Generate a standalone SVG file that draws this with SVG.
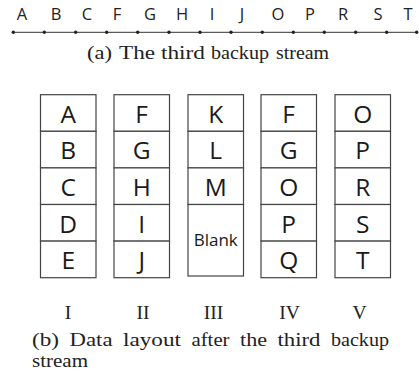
<svg xmlns="http://www.w3.org/2000/svg" width="419" height="374" viewBox="0 0 419 374">
<style>
.top{font-family:"Open Sans","Liberation Sans",sans-serif;font-size:16.5px;fill:#222;text-anchor:middle}
.cell{fill:#fff;stroke:#444;stroke-width:1.2}
.lbl{font-family:"Open Sans","Liberation Sans",sans-serif;font-size:24.5px;fill:#1a1a1a;text-anchor:middle}
.small{font-family:"Open Sans","Liberation Sans",sans-serif;font-size:17px;fill:#1a1a1a;text-anchor:middle}
.cap{font-family:"Liberation Serif","DejaVu Serif",serif;font-size:19.5px;fill:#222}
.num{font-family:"Liberation Serif","DejaVu Serif",serif;font-size:19.5px;fill:#222;text-anchor:middle}
.dot{fill:#222}
</style>
<rect width="419" height="374" fill="#fff"/>
<g id="stream">
<g class="top">
<text x="22" y="20">A</text><text x="56" y="20">B</text><text x="87" y="20">C</text><text x="117" y="20">F</text><text x="150" y="20">G</text><text x="182" y="20">H</text><text x="212" y="20">I</text><text x="242" y="20">J</text><text x="278" y="20">O</text><text x="310" y="20">P</text><text x="343" y="20">R</text><text x="378" y="20">S</text><text x="408" y="20">T</text>
</g>
<line x1="13" y1="32.3" x2="417" y2="32.3" stroke="#333" stroke-width="1"/>
<g class="dot">
<circle cx="13.3" cy="32.3" r="1.7"/><circle cx="44.3" cy="32.3" r="1.7"/><circle cx="75.7" cy="32.3" r="1.7"/><circle cx="106.7" cy="32.3" r="1.7"/><circle cx="137.7" cy="32.3" r="1.7"/><circle cx="169" cy="32.3" r="1.7"/><circle cx="200" cy="32.3" r="1.7"/><circle cx="231" cy="32.3" r="1.7"/><circle cx="262.3" cy="32.3" r="1.7"/><circle cx="293.3" cy="32.3" r="1.7"/><circle cx="324.3" cy="32.3" r="1.7"/><circle cx="355.7" cy="32.3" r="1.7"/><circle cx="386.7" cy="32.3" r="1.7"/><circle cx="416.7" cy="32.3" r="1.7"/>
</g>
<g class="cap">
<text x="87" y="58.5" textLength="25" lengthAdjust="spacingAndGlyphs">(a)</text>
<text x="119" y="58.5" textLength="36" lengthAdjust="spacingAndGlyphs">The</text>
<text x="161" y="58.5" textLength="44" lengthAdjust="spacingAndGlyphs">third</text>
<text x="211" y="58.5" textLength="58" lengthAdjust="spacingAndGlyphs">backup</text>
<text x="276" y="58.5" textLength="53" lengthAdjust="spacingAndGlyphs">stream</text>
</g>
</g>
<g id="col-I">
<rect class="cell" x="40.5" y="94.7" width="55.5" height="36.6"/>
<rect class="cell" x="40.5" y="131.3" width="55.5" height="36.6"/>
<rect class="cell" x="40.5" y="167.9" width="55.5" height="36.6"/>
<rect class="cell" x="40.5" y="204.5" width="55.5" height="36.6"/>
<rect class="cell" x="40.5" y="241.1" width="55.5" height="36.6"/>
<text class="lbl" x="68.2" y="122.7">A</text><text class="lbl" x="68.2" y="159.3">B</text><text class="lbl" x="68.2" y="195.9">C</text><text class="lbl" x="68.2" y="232.5">D</text><text class="lbl" x="68.2" y="269.1">E</text>
</g>
<g id="col-II">
<rect class="cell" x="114" y="94.7" width="55.5" height="36.6"/>
<rect class="cell" x="114" y="131.3" width="55.5" height="36.6"/>
<rect class="cell" x="114" y="167.9" width="55.5" height="36.6"/>
<rect class="cell" x="114" y="204.5" width="55.5" height="36.6"/>
<rect class="cell" x="114" y="241.1" width="55.5" height="36.6"/>
<text class="lbl" x="141.7" y="122.7">F</text><text class="lbl" x="141.7" y="159.3">G</text><text class="lbl" x="141.7" y="195.9">H</text><text class="lbl" x="141.7" y="232.5">I</text><text class="lbl" x="141.7" y="269.1">J</text>
</g>
<g id="col-III">
<rect class="cell" x="188" y="94.7" width="55.5" height="36.6"/>
<rect class="cell" x="188" y="131.3" width="55.5" height="36.6"/>
<rect class="cell" x="188" y="167.9" width="55.5" height="36.6"/>
<rect class="cell" x="188" y="204.5" width="55.5" height="71.5"/>
<text class="lbl" x="215.7" y="122.7">K</text><text class="lbl" x="215.7" y="159.3">L</text><text class="lbl" x="215.7" y="195.9">M</text>
<text class="small" x="215.7" y="246">Blank</text>
</g>
<g id="col-IV">
<rect class="cell" x="261" y="94.7" width="55.5" height="36.6"/>
<rect class="cell" x="261" y="131.3" width="55.5" height="36.6"/>
<rect class="cell" x="261" y="167.9" width="55.5" height="36.6"/>
<rect class="cell" x="261" y="204.5" width="55.5" height="36.6"/>
<rect class="cell" x="261" y="241.1" width="55.5" height="36.6"/>
<text class="lbl" x="288.7" y="122.7">F</text><text class="lbl" x="288.7" y="159.3">G</text><text class="lbl" x="288.7" y="195.9">O</text><text class="lbl" x="288.7" y="232.5">P</text><text class="lbl" x="288.7" y="269.1">Q</text>
</g>
<g id="col-V">
<rect class="cell" x="335" y="94.7" width="55.5" height="36.6"/>
<rect class="cell" x="335" y="131.3" width="55.5" height="36.6"/>
<rect class="cell" x="335" y="167.9" width="55.5" height="36.6"/>
<rect class="cell" x="335" y="204.5" width="55.5" height="36.6"/>
<rect class="cell" x="335" y="241.1" width="55.5" height="36.6"/>
<text class="lbl" x="362.7" y="122.7">O</text><text class="lbl" x="362.7" y="159.3">P</text><text class="lbl" x="362.7" y="195.9">R</text><text class="lbl" x="362.7" y="232.5">S</text><text class="lbl" x="362.7" y="269.1">T</text>
</g>
<g id="captions">
<text class="num" x="68" y="319.3">I</text><text class="num" x="143" y="319.3">II</text><text class="num" x="213.5" y="319.3">III</text><text class="num" x="289.5" y="319.3">IV</text><text class="num" x="359.5" y="319.3">V</text>
<g class="cap">
<text x="32" y="346" textLength="27" lengthAdjust="spacingAndGlyphs">(b)</text>
<text x="69.5" y="346" textLength="43" lengthAdjust="spacingAndGlyphs">Data</text>
<text x="123" y="346" textLength="58" lengthAdjust="spacingAndGlyphs">layout</text>
<text x="191.5" y="346" textLength="38" lengthAdjust="spacingAndGlyphs">after</text>
<text x="240" y="346" textLength="27" lengthAdjust="spacingAndGlyphs">the</text>
<text x="277.5" y="346" textLength="43" lengthAdjust="spacingAndGlyphs">third</text>
<text x="331" y="346" textLength="58" lengthAdjust="spacingAndGlyphs">backup</text>
<text x="32" y="367" textLength="56" lengthAdjust="spacingAndGlyphs">stream</text>
</g>
</g>
</svg>
